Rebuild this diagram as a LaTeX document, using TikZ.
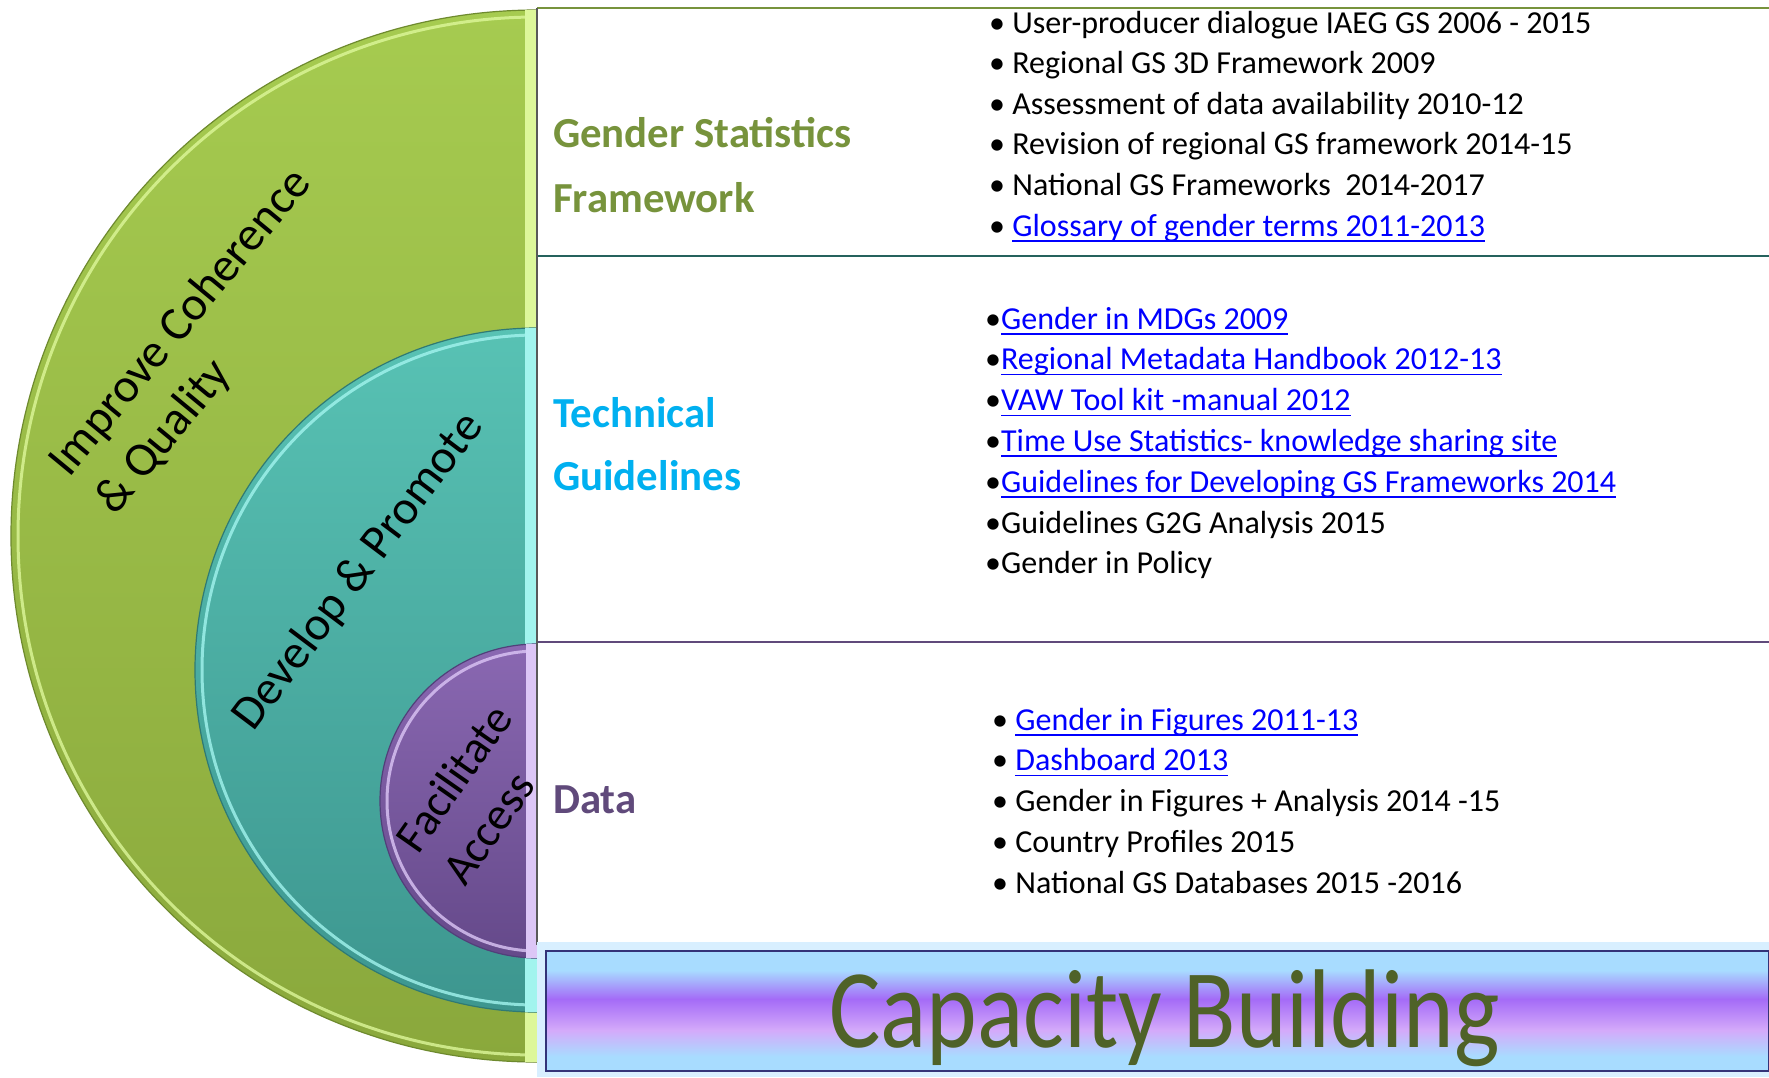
\documentclass[tikz,border=0pt]{standalone}
\usepackage{fontspec}
\usepackage{graphicx}
\setmainfont{Carlito}
\definecolor{grnTop}{HTML}{A6CB50}
\definecolor{grnBot}{HTML}{8AA83C}
\definecolor{grnDark}{HTML}{6E8A2E}
\definecolor{grnLight}{HTML}{DDF79A}
\definecolor{tealTop}{HTML}{58C2B4}
\definecolor{tealBot}{HTML}{3D968F}
\definecolor{tealDark}{HTML}{2F7A74}
\definecolor{tealLight}{HTML}{A2F4EE}
\definecolor{purTop}{HTML}{8A68B2}
\definecolor{purBot}{HTML}{65498A}
\definecolor{purDark}{HTML}{51407A}
\definecolor{purLight}{HTML}{DCC6F6}
\definecolor{gsfGreen}{HTML}{77933C}
\definecolor{tgBlue}{HTML}{00B0F0}
\definecolor{dataPurp}{HTML}{604A7B}
\definecolor{capGreen}{HTML}{4F6228}
\definecolor{linkBlue}{HTML}{0000FF}
\definecolor{cbBlue}{HTML}{A8DCFF}
\definecolor{cbPurp}{HTML}{A46BF7}
\definecolor{cbLav}{HTML}{D4AAFA}
% the path is mapped onto 25bp--75bp of the shading
\pgfdeclareverticalshading{capbar}{100bp}{color(0bp)=(cbBlue); color(31bp)=(cbBlue);
  color(42bp)=(cbLav); color(55bp)=(cbPurp); color(67bp)=(cbBlue); color(100bp)=(cbBlue)}
\newcommand{\lnk}[1]{{\color{linkBlue}\setbox0\hbox{#1}\rlap{\rule[-5.5pt]{\wd0}{1.6pt}}\box0}}
\begin{document}
\begin{tikzpicture}[x=1pt, y=-1pt,
    listtext/.style={anchor=base west, inner sep=0pt, font=\fontsize{32}{38}\selectfont},
    head/.style={anchor=base west, inner sep=0pt, font=\bfseries\fontsize{42.8}{50}\selectfont},
    ringtext/.style={inner sep=0pt, font=\fontsize{48}{60}\selectfont}]
    \fill[white] (0,0) rectangle (1769,1077);
    \useasboundingbox (0,0) rectangle (1769,1077);
    % half discs
    \begin{scope}
        \clip (0,0) rectangle (537,1077);
        \shade[top color=grnTop, bottom color=grnBot, draw=grnDark, line width=1.2pt] (537,536) circle[radius=526pt];
        \draw[grnLight, line width=3pt, opacity=.8] (537,536) circle[radius=519pt];
        \fill[grnLight] (525,10) rectangle (537,1062);
        \shade[top color=tealTop, bottom color=tealBot, draw=tealDark, line width=1.2pt] (537,670) circle[radius=342pt];
        \draw[tealLight, line width=3pt, opacity=.8] (537,670) circle[radius=335pt];
        \fill[tealLight] (525,328) rectangle (537,1012);
        \shade[top color=purTop, bottom color=purBot, draw=purDark, line width=1.2pt] (537,801) circle[radius=157pt];
        \draw[purLight, line width=3pt, opacity=.8] (537,801) circle[radius=150pt];
        \fill[purLight] (526,644) rectangle (537,958);
    \end{scope}
    \node[ringtext, rotate=50.5, align=left] (icq) at (204,342) {Improve Coherence\\\& Quality};
    \node[ringtext, rotate=53] (dp) at (359,572) {Develop \& Promote};
    \node[ringtext, rotate=55, align=left, font=\fontsize{46}{57}\selectfont] (fa) at (477,794) {Facilitate\\Access};
    % table on the right
    \draw[gsfGreen, line width=2pt] (537,8) -- (1769,8);
    \draw[tealDark!80!black, line width=2pt] (537,256) -- (1769,256);
    \draw[dataPurp, line width=2pt] (537,642) -- (1769,642);
    \draw[black!65, line width=2pt] (537,8) -- (537,945);
    \node[head, text=gsfGreen] (gsf1) at (553,147) {Gender Statistics};
    \node[head, text=gsfGreen] (gsf2) at (553,212) {Framework};
    \node[head, text=tgBlue] (tg1) at (553,427) {Technical};
    \node[head, text=tgBlue] (tg2) at (553,490) {Guidelines};
    \node[head, text=dataPurp] (dat) at (553,813) {Data};
    \foreach \t [count=\i from 0] in {User-producer dialogue IAEG GS 2006 - 2015,
        Regional GS 3D Framework 2009, Assessment of data availability 2010-12,
        Revision of regional GS framework 2014-15, National GS Frameworks~ 2014-2017,
        \lnk{Glossary of gender terms 2011-2013}}
        \node[listtext] (gsf-\i) at (989,33+40.6*\i) {• \t};
    \foreach \t [count=\i from 0] in {\lnk{Gender in MDGs 2009}, \lnk{Regional Metadata Handbook 2012-13},
        \lnk{VAW Tool kit -manual 2012}, \lnk{Time Use Statistics- knowledge sharing site},
        \lnk{Guidelines for Developing GS Frameworks 2014}, Guidelines G2G Analysis 2015, Gender in Policy}
        \node[listtext] (tg-\i) at (985,329+40.8*\i) {•\t};
    \foreach \t [count=\i from 0] in {\lnk{Gender in Figures 2011-13}, \lnk{Dashboard 2013},
        Gender in Figures + Analysis 2014 -15, Country Profiles 2015, National GS Databases 2015 -2016}
        \node[listtext] (dat-\i) at (992,730+40.75*\i) {• \t};
    % capacity building bar
    \fill[cbBlue!45!white] (537,942) rectangle (1769,1077);
    \shade[shading=capbar, draw=black!55!blue!60!gray, line width=1.5pt] (546,951) rectangle (1769,1071);
    \node[anchor=base west, inner sep=0pt, text=capGreen, font=\fontsize{112}{120}\selectfont] (cb) at (829,1047) {\scalebox{.86}[1]{Capacity Building}};
\end{tikzpicture}
\end{document}
